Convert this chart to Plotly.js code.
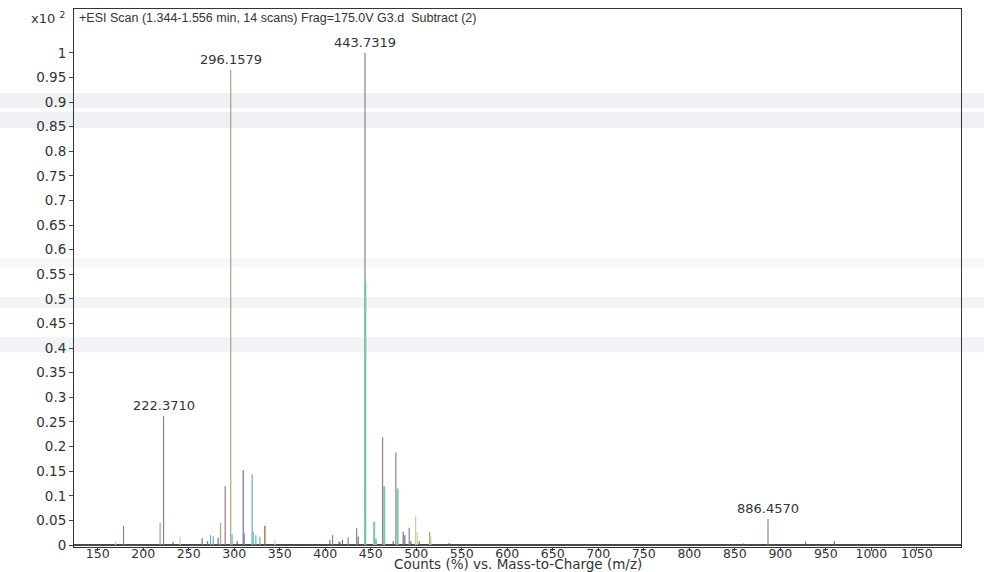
<!DOCTYPE html>
<html>
<head>
<meta charset="utf-8">
<script src="https://cdn.plot.ly/plotly-3.0.1.min.js"></script>
<style>
  html, body { margin: 0; padding: 0; background: #ffffff; }
  #chart { width: 984px; height: 572px; }
</style>
</head>
<body>
<div id="chart"></div>
<script>
// Stick spectrum, intensities in units of x10^2 counts (%), grouped by trace colour
const mzViolet = [178.4, 222.3710, 311.0, 425.2, 434.5, 443.7319, 492.3];
const intViolet = [0.039, 0.262, 0.024, 0.016, 0.034, 1.000, 0.035];

const mzTan = [218.6, 285.0, 296.1579, 514.7];
const intTan = [0.045, 0.045, 0.965, 0.027];

const mzMauve = [290.1, 408.1, 463.0, 477.6, 886.4570];
const intMauve = [0.120, 0.020, 0.219, 0.188, 0.053];

const mzRust = [333.7];
const intRust = [0.039];

const mzBlue = [264.8, 270.7, 282.4, 309.9, 485.7];
const intBlue = [0.014, 0.008, 0.015, 0.152, 0.027];

const mzCyan = [274.0, 277.0, 297.7, 319.7, 320.8, 323.8, 328.2];
const intCyan = [0.020, 0.018, 0.022, 0.144, 0.027, 0.020, 0.017];

const mzGreen = [444.1, 453.8, 455.7, 464.8, 479.5];
const intGreen = [0.535, 0.047, 0.012, 0.119, 0.115];

const mzPale = [169.6, 240.6, 344.7, 499.3, 501.1, 516.1];
const intPale = [0.007, 0.017, 0.010, 0.058, 0.027, 0.017];

const mzMinor = [232.9, 303.3, 405.1, 415.3, 416.1, 419.0, 436.2, 474.7, 487.5, 494.1, 503.3, 536.2, 859.3, 927.9, 959.3];
const intMinor = [0.006, 0.008, 0.010, 0.007, 0.006, 0.010, 0.017, 0.008, 0.020, 0.008, 0.008, 0.004, 0.003, 0.007, 0.008];

// Labelled peaks
const labelMz = [222.3710, 296.1579, 443.7319, 886.4570];
const labelInt = [0.262, 0.965, 1.000, 0.053];
const labelText = ["222.3710", "296.1579", "443.7319", "886.4570"];

const xTicks = [150, 200, 250, 300, 350, 400, 450, 500, 550, 600, 650, 700, 750, 800, 850, 900, 950, 1000, 1050];
const yTicks = [0, 0.05, 0.1, 0.15, 0.2, 0.25, 0.3, 0.35, 0.4, 0.45, 0.5, 0.55, 0.6, 0.65, 0.7, 0.75, 0.8, 0.85, 0.9, 0.95, 1];
const yTickText = ["0", "0.05", "0.1", "0.15", "0.2", "0.25", "0.3", "0.35", "0.4", "0.45", "0.5", "0.55", "0.6", "0.65", "0.7", "0.75", "0.8", "0.85", "0.9", "0.95", "1"];

// Turn peak lists into vertical sticks separated by gaps
function sticks(mz, inten, color, width) {
  const xs = [], ys = [];
  for (let i = 0; i < mz.length; i++) {
    xs.push(mz[i], mz[i], null);
    ys.push(0, inten[i], null);
  }
  return {
    type: 'scatter', mode: 'lines', x: xs, y: ys,
    line: { color: color, width: width },
    hoverinfo: 'skip', showlegend: false, connectgaps: false
  };
}

const traces = [
  sticks(mzMinor, intMinor, '#5a5560', 1),
  sticks(mzPale, intPale, '#c2d696', 1.2),
  sticks(mzCyan, intCyan, '#62b4be', 1.2),
  sticks(mzBlue, intBlue, '#6673a6', 1.2),
  sticks(mzRust, intRust, '#a0643a', 1.3),
  sticks(mzMauve, intMauve, '#a27a82', 1.2),
  sticks(mzTan, intTan, '#b3a178', 1.2),
  sticks(mzViolet, intViolet, '#86809a', 1.2),
  sticks(mzGreen, intGreen, '#74c9a0', 2)
];

const SANS = 'DejaVu Sans, sans-serif';
const ARIAL = 'Liberation Sans, Arial, sans-serif';

const annotations = labelMz.map((m, i) => ({
  x: m, y: labelInt[i], xref: 'x', yref: 'y',
  text: labelText[i], showarrow: false,
  xanchor: 'center', yanchor: 'bottom', yshift: 1,
  font: { family: SANS, size: 13, color: '#333333' }
}));

// Exponent note left of the frame
annotations.push({
  xref: 'paper', yref: 'paper', x: -0.008, y: 1.0,
  xanchor: 'right', yanchor: 'top', yshift: 1,
  text: 'x10 <sup>2</sup>', showarrow: false,
  font: { family: SANS, size: 13, color: '#333333' }
});
// Scan description inside the frame
annotations.push({
  xref: 'paper', yref: 'paper', x: 0.003, y: 1.0,
  xanchor: 'left', yanchor: 'top', yshift: 0,
  text: '+ESI Scan (1.344-1.556 min, 14 scans) Frag=175.0V G3.d  Subtract (2)', showarrow: false,
  font: { family: ARIAL, size: 12.5, color: '#333333' }
});
// x-axis title tucked under the tick labels
annotations.push({
  xref: 'paper', yref: 'paper', x: 0.5, y: -25 / 538,
  xanchor: 'center', yanchor: 'bottom', yshift: -1, borderpad: 0,
  text: 'Counts (%) vs. Mass-to-Charge (m/z)', showarrow: false,
  font: { family: SANS, size: 13.5, color: '#333333' }
});

// Faint horizontal scanner bands (paper units)
const bands = [[0.816, 0.844, 0.12], [0.779, 0.809, 0.13], [0.52, 0.537, 0.07], [0.444, 0.465, 0.09], [0.362, 0.39, 0.1]];
const shapes = bands.map(b => ({
  type: 'rect', xref: 'paper', yref: 'paper', x0: -0.09, x1: 1.03, y0: b[0], y1: b[1],
  line: { width: 0 }, fillcolor: 'rgba(125,138,170,' + b[2] + ')', layer: 'below'
}));

const layout = {
  width: 984, height: 572,
  margin: { l: 74, r: 23, t: 9, b: 25 },
  paper_bgcolor: '#ffffff', plot_bgcolor: 'rgba(0,0,0,0)',
  font: { family: SANS, size: 13, color: '#333333' },
  showlegend: false,
  xaxis: {
    range: [124, 1098.5],
    tickmode: 'array', tickvals: xTicks, ticktext: xTicks.map(String),
    ticks: 'outside', ticklen: 3, tickcolor: '#444', tickwidth: 1,
    ticklabelstandoff: -8,
    showgrid: false, zeroline: false,
    showline: true, linecolor: '#333', linewidth: 1, mirror: true,
    tickfont: { size: 12.5, color: '#333' },
    automargin: false
  },
  yaxis: {
    range: [-0.004, 1.089],
    tickmode: 'array', tickvals: yTicks, ticktext: yTickText,
    ticks: 'outside', ticklen: 4, tickcolor: '#444', tickwidth: 1,
    showgrid: false,
    zeroline: true, zerolinecolor: '#4a4a4a', zerolinewidth: 1.5,
    showline: true, linecolor: '#333', linewidth: 1, mirror: true,
    tickfont: { size: 13.5, color: '#333' },
    automargin: false
  },
  annotations: annotations,
  shapes: shapes
};

Plotly.newPlot('chart', traces, layout, { staticPlot: true, displayModeBar: false });
</script>
</body>
</html>
